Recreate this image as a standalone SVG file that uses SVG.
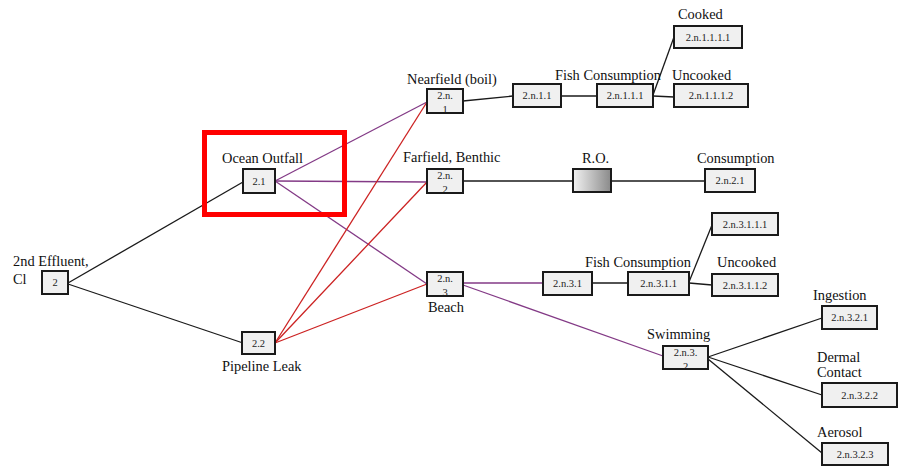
<svg xmlns="http://www.w3.org/2000/svg" width="901" height="466" viewBox="0 0 901 466">
<style>
.box{fill:#f0f0f0;stroke:#1a1a1a;stroke-width:2}
.nt{font-family:"Liberation Serif",serif;font-size:10.5px;fill:#222;text-anchor:middle}
.lb{font-family:"Liberation Serif",serif;font-size:14.4px;fill:#111}
.k{stroke:#1a1a1a;stroke-width:1.3;fill:none}
.p{stroke:#833a86;stroke-width:1.3;fill:none}
.r{stroke:#cc2222;stroke-width:1.3;fill:none}
</style>
<defs>
<linearGradient id="ro" x1="0" y1="0" x2="1" y2="0">
<stop offset="0" stop-color="#f2f2f2"/>
<stop offset="1" stop-color="#8a8a8a"/>
</linearGradient>
<clipPath id="c1"><rect x="428" y="90" width="34" height="22"/></clipPath>
<clipPath id="c2"><rect x="428" y="170" width="34" height="22"/></clipPath>
<clipPath id="c3"><rect x="428" y="273" width="34" height="22"/></clipPath>
<clipPath id="c4"><rect x="664" y="347" width="43" height="21"/></clipPath>
</defs>
<rect width="901" height="466" fill="#fff"/>
<g id="connectors">
<line class="k" x1="68" y1="283" x2="243" y2="182"/>
<line class="k" x1="68" y1="284" x2="243" y2="343"/>
<line class="p" x1="275" y1="181" x2="427" y2="102"/>
<line class="p" x1="275" y1="181" x2="427" y2="182"/>
<line class="p" x1="275" y1="181" x2="427" y2="284"/>
<line class="r" x1="275" y1="343" x2="427" y2="102"/>
<line class="r" x1="275" y1="343" x2="427" y2="182"/>
<line class="r" x1="275" y1="343" x2="427" y2="284"/>
<line class="k" x1="463" y1="101" x2="513" y2="96"/>
<line class="k" x1="561" y1="96" x2="597" y2="96"/>
<line class="k" x1="653" y1="95" x2="674" y2="37"/>
<line class="k" x1="653" y1="96" x2="674" y2="97"/>
<line class="k" x1="463" y1="181" x2="573" y2="181"/>
<line class="k" x1="611" y1="181" x2="705" y2="181"/>
<line class="p" x1="463" y1="283" x2="543" y2="283"/>
<line class="p" x1="463" y1="285" x2="663" y2="356"/>
<line class="k" x1="592" y1="283" x2="628" y2="283"/>
<line class="k" x1="689" y1="282" x2="712" y2="225"/>
<line class="k" x1="689" y1="283" x2="712" y2="285"/>
<line class="k" x1="708" y1="357" x2="822" y2="318"/>
<line class="k" x1="708" y1="357" x2="822" y2="395"/>
<line class="k" x1="708" y1="359" x2="822" y2="453"/>
</g>
<g id="n2"><rect class="box" x="42" y="271" width="26" height="23"/><text class="nt" x="55" y="286">2</text>
<text class="lb" x="13" y="266">2nd Effluent,</text><text class="lb" x="13" y="284">Cl</text></g>
<g id="n2-1"><rect class="box" x="243" y="169" width="32" height="24"/><text class="nt" x="259" y="185">2.1</text>
<text class="lb" x="222" y="163">Ocean Outfall</text></g>
<g id="n2-2"><rect class="box" x="242" y="332" width="33" height="22"/><text class="nt" x="258.5" y="347">2.2</text>
<text class="lb" x="222" y="371">Pipeline Leak</text></g>
<g id="n2n1"><rect class="box" x="427" y="89" width="36" height="24"/>
<g clip-path="url(#c1)"><text class="nt" x="445" y="99">2.n.</text><text class="nt" x="445" y="113">1</text></g>
<text class="lb" x="407" y="84">Nearfield (boil)</text></g>
<g id="n2n2"><rect class="box" x="427" y="169" width="36" height="24"/>
<g clip-path="url(#c2)"><text class="nt" x="445" y="179">2.n.</text><text class="nt" x="445" y="193">2</text></g>
<text class="lb" x="403" y="162">Farfield, Benthic</text></g>
<g id="n2n3"><rect class="box" x="427" y="272" width="36" height="24"/>
<g clip-path="url(#c3)"><text class="nt" x="445" y="282">2.n.</text><text class="nt" x="445" y="296">3</text></g>
<text class="lb" x="428" y="312">Beach</text></g>
<g id="n2n11"><rect class="box" x="513" y="84" width="48" height="23"/><text class="nt" x="537" y="99">2.n.1.1</text></g>
<g id="n2n111"><rect class="box" x="597" y="84" width="56" height="23"/><text class="nt" x="625" y="99">2.n.1.1.1</text>
<text class="lb" x="555" y="80">Fish Consumption</text></g>
<g id="n2n1111"><rect class="box" x="674" y="26" width="68" height="22"/><text class="nt" x="708" y="41">2.n.1.1.1.1</text>
<text class="lb" x="678" y="19">Cooked</text></g>
<g id="n2n1112"><rect class="box" x="674" y="84" width="74" height="23"/><text class="nt" x="711" y="99">2.n.1.1.1.2</text>
<text class="lb" x="672" y="80">Uncooked</text></g>
<g id="ro-node"><rect x="573" y="169" width="38" height="23" fill="url(#ro)" stroke="#1a1a1a" stroke-width="2"/>
<text class="lb" x="582" y="163">R.O.</text></g>
<g id="n2n21"><rect class="box" x="705" y="169" width="50" height="23"/><text class="nt" x="730" y="184">2.n.2.1</text>
<text class="lb" x="697" y="163">Consumption</text></g>
<g id="n2n31"><rect class="box" x="543" y="272" width="49" height="23"/><text class="nt" x="567.5" y="287">2.n.3.1</text></g>
<g id="n2n311"><rect class="box" x="628" y="272" width="61" height="23"/><text class="nt" x="658.5" y="287">2.n.3.1.1</text>
<text class="lb" x="585" y="267">Fish Consumption</text></g>
<g id="n2n3111"><rect class="box" x="712" y="213" width="66" height="22"/><text class="nt" x="745" y="228">2.n.3.1.1.1</text></g>
<g id="n2n3112"><rect class="box" x="712" y="274" width="66" height="22"/><text class="nt" x="745" y="289">2.n.3.1.1.2</text>
<text class="lb" x="717" y="267">Uncooked</text></g>
<g id="n2n32"><rect class="box" x="663" y="346" width="45" height="23"/>
<g clip-path="url(#c4)"><text class="nt" x="685.5" y="356">2.n.3.</text><text class="nt" x="685.5" y="370">2</text></g>
<text class="lb" x="647" y="339">Swimming</text></g>
<g id="n2n321"><rect class="box" x="822" y="306" width="55" height="23"/><text class="nt" x="849.5" y="321">2.n.3.2.1</text>
<text class="lb" x="813" y="300">Ingestion</text></g>
<g id="n2n322"><rect class="box" x="822" y="383" width="75" height="24"/><text class="nt" x="859.5" y="399">2.n.3.2.2</text>
<text class="lb" x="817" y="362">Dermal</text><text class="lb" x="817" y="377">Contact</text></g>
<g id="n2n323"><rect class="box" x="822" y="443" width="66" height="22"/><text class="nt" x="855" y="458">2.n.3.2.3</text>
<text class="lb" x="817" y="437">Aerosol</text></g>
<g id="highlight"><rect x="204.5" y="132.5" width="140" height="82" fill="none" stroke="#ff0000" stroke-width="5"/></g>
</svg>
